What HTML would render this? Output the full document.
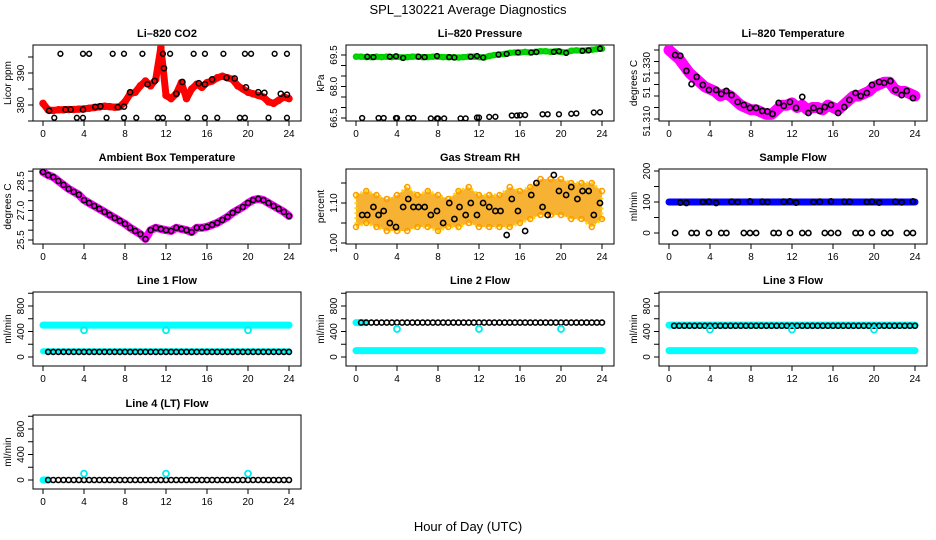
<!DOCTYPE html>
<html><head><meta charset="utf-8"><style>
html,body{margin:0;padding:0;background:#fff;}
svg{display:block;font-family:"Liberation Sans",Arial,sans-serif;}
</style></head><body>
<svg id="chart" width="936" height="540" viewBox="0 0 936 540" xmlns="http://www.w3.org/2000/svg">
<rect width="936" height="540" fill="#fff"/>
<text x="468" y="14" text-anchor="middle" font-size="13">SPL_130221  Average Diagnostics</text>
<text x="468" y="531" text-anchor="middle" font-size="13">Hour of Day (UTC)</text>
</svg>
<script>
const halfHours=[0,0.5,1,1.5,2,2.5,3,3.5,4,4.5,5,5.5,6,6.5,7,7.5,8,8.5,9,9.5,10,10.5,11,11.5,12,12.5,13,13.5,14,14.5,15,15.5,16,16.5,17,17.5,18,18.5,19,19.5,20,20.5,21,21.5,22,22.5,23,23.5,24];
const hours=[0,1,2,3,4,5,6,7,8,9,10,11,12,13,14,15,16,17,18,19,20,21,22,23,24];
const blackT=[0.6,1.1,1.7,2.2,2.7,3.3,3.9,4.6,5.1,5.6,6.1,6.7,7.3,7.9,8.5,9.1,9.6,10.1,10.7,11.2,11.8,12.4,13.0,13.6,14.1,14.7,15.2,15.8,16.5,17.1,17.6,18.2,18.7,19.3,19.8,20.5,21.0,21.6,22.1,22.7,23.2,23.8];
const xTicks=[0,4,8,12,16,20,24];

const co2Red=[380.5,378.5,378.3,378.5,378.5,378.6,378.6,378.7,378.8,379,379.2,379.4,379.6,379.5,379.3,379.5,381,383.5,384,386,387.5,386,388,398,383,382,383.5,387,382,385,386.5,385.5,387,387.5,388.5,389,388.5,388,386,385,384,383.5,383,382.5,381,380.5,381.5,382.5,382];
const co2MidT=[0.6,2.2,2.7,3.9,5.1,5.6,7.3,7.9,8.5,10.2,10.9,11.8,13.0,13.6,15.2,15.8,16.5,17.9,18.7,19.8,21.0,21.6,23.2,23.8];
const co2MidV=[378.2,378.6,378.6,378.6,379.4,379.6,379.3,379.5,384,386.5,387.5,391.5,383.5,387.2,386.8,386.5,388,388.5,388.3,385.5,384,383.8,383.5,383.2];
const co2UpT=[1.7,3.9,4.5,6.8,7.9,9.7,11.7,12.4,14.7,15.8,17.6,19.7,20.3,22.6,23.8];
const co2UpV=[396,396,396,396,396,396,396,396,396,396,396,396,396,396,396];
const co2LoT=[1.1,3.3,3.9,6.2,7.9,9.1,11.2,11.7,14.1,15.8,17.0,19.2,19.7,22.0,23.8];
const co2LoV=[376,376,376,376,376,376,376,376,376,376,376,376,376,376,376];

const presGreen=[69.42,69.42,69.40,69.40,69.42,69.40,69.42,69.40,69.42,69.38,69.40,69.42,69.42,69.40,69.40,69.42,69.42,69.40,69.40,69.40,69.38,69.40,69.42,69.42,69.40,69.38,69.45,69.50,69.52,69.55,69.60,69.62,69.62,69.65,69.62,69.65,69.68,69.68,69.65,69.68,69.65,69.62,69.70,69.72,69.70,69.72,69.75,69.78,69.80];
const presUpT=[1.1,1.7,3.3,3.9,4.6,6.1,6.7,7.9,9.1,9.6,11.2,11.8,12.4,13.9,14.7,15.8,17.1,17.6,19.3,19.8,20.5,22.1,22.7,23.8];
const presUpV=[69.42,69.40,69.42,69.44,69.36,69.42,69.40,69.45,69.40,69.38,69.42,69.45,69.38,69.52,69.55,69.62,69.62,69.64,69.65,69.68,69.60,69.70,69.72,69.80];
const presLoT=[0.6,2.2,2.7,3.9,4.0,5.1,5.6,7.3,7.9,8.0,8.6,10.2,10.7,11.8,12.0,13.0,13.6,15.2,15.7,16.0,16.5,18.2,18.7,19.8,21.0,21.5,23.2,23.8];
const presLoV=[66.5,66.5,66.5,66.5,66.5,66.5,66.5,66.48,66.48,66.48,66.48,66.48,66.48,66.52,66.52,66.55,66.56,66.62,66.62,66.63,66.64,66.68,66.68,66.68,66.7,66.72,66.76,66.77];

const litMag=[51.340,51.338,51.336,51.333,51.330,51.328,51.326,51.324,51.323,51.322,51.320,51.321,51.320,51.318,51.316,51.315,51.314,51.314,51.313,51.312,51.312,51.314,51.316,51.316,51.317,51.315,51.316,51.314,51.315,51.315,51.314,51.316,51.315,51.314,51.316,51.318,51.320,51.320,51.321,51.322,51.324,51.325,51.326,51.326,51.323,51.322,51.322,51.321,51.320];
const litBlack=[51.3378,51.3375,51.3309,51.3252,51.3283,51.3248,51.3226,51.3226,51.3209,51.3222,51.3204,51.3174,51.3161,51.3148,51.3148,51.3135,51.3133,51.3122,51.3170,51.3157,51.3174,51.3148,51.3196,51.3126,51.3148,51.3135,51.3152,51.3161,51.3126,51.3152,51.3183,51.3213,51.3200,51.3213,51.3248,51.3261,51.3257,51.3265,51.3226,51.3204,51.3222,51.3191];

const ambTemp=[28.96,28.8,28.7,28.5,28.3,28.1,27.95,27.8,27.53,27.38,27.23,27.08,26.93,26.77,26.62,26.47,26.32,26.12,25.96,25.8,25.55,26.0,26.12,26.06,26.0,25.96,26.12,26.06,26.0,25.9,26.12,26.12,26.17,26.27,26.37,26.52,26.67,26.88,27.03,27.18,27.38,27.53,27.59,27.53,27.38,27.23,27.08,26.93,26.72];

const rhHigh=[1.12,1.13,1.12,1.11,1.12,1.14,1.12,1.13,1.12,1.11,1.13,1.14,1.12,1.12,1.12,1.14,1.13,1.14,1.16,1.16,1.16,1.15,1.15,1.15,1.13];
const rhLow=[1.04,1.05,1.04,1.03,1.03,1.03,1.04,1.04,1.03,1.04,1.04,1.05,1.04,1.04,1.04,1.04,1.05,1.06,1.07,1.07,1.07,1.06,1.06,1.04,1.06];
const rhBlack=[1.07,1.07,1.09,1.07,1.08,1.05,1.04,1.09,1.11,1.09,1.09,1.09,1.07,1.08,1.05,1.10,1.06,1.09,1.07,1.10,1.07,1.10,1.09,1.08,1.08,1.02,1.11,1.08,1.03,1.12,1.15,1.09,1.07,1.17,1.13,1.12,1.14,1.11,1.13,1.13,1.07,1.10];

const sampBlue=[100,100,100,100,100,100,100,100,100,100,100,100,100,100,100,100,100,100,100,100,100,100,100,100,100];
const sampUpT=[1.1,1.7,3.3,3.9,4.6,6.1,6.7,7.9,9.1,9.6,11.2,11.8,12.4,14.1,14.7,15.8,17.1,17.6,19.3,19.8,20.5,22.1,22.7,23.8];
const sampUpV=[98,97,100,101,97,101,100,102,101,100,101,102,98,100,101,102,101,101,100,101,98,101,99,102];
const sampLoT=[0.6,2.2,2.7,3.9,5.1,5.6,7.3,7.9,8.5,10.2,10.7,11.8,13.0,13.6,15.2,15.8,16.5,18.2,18.7,19.8,21.0,21.6,23.2,23.8];
const sampLoV=[0,0,0,0,0,0,0,0,0,0,0,0,0,0,0,0,0,0,0,0,0,0,0,0];

const l1CyanHi=[500,500,500,500,500,500,500,500,500,500,500,500,500,500,500,500,500,500,500,500,500,500,500,500,500];
const l1CyanLo=[90,90,90,90,90,90,90,90,90,90,90,90,90,90,90,90,90,90,90,90,90,90,90,90,90];
const l1Black=[80,80,80,80,80,80,80,80,80,80,80,80,80,80,80,80,80,80,80,80,80,80,80,80,80,80,80,80,80,80,80,80,80,80,80,80,80,80,80,80,80,80,80,80,80,80,80,80];
const l2CyanHi=[540,540];
const l2CyanLo=[100,100,100,100,100,100,100,100,100,100,100,100,100,100,100,100,100,100,100,100,100,100,100,100,100];
const l2Black=[540,540,540,540,540,540,540,540,540,540,540,540,540,540,540,540,540,540,540,540,540,540,540,540,540,540,540,540,540,540,540,540,540,540,540,540,540,540,540,540,540,540,540,540,540,540,540,540];
const l3CyanHi=[500,500,500,500,500,500,500,500,500,500,500,500,500,500,500,500,500,500,500,500,500,500,500,500,500];
const l3CyanLo=[100,100,100,100,100,100,100,100,100,100,100,100,100,100,100,100,100,100,100,100,100,100,100,100,100];
const l3Black=[490,490,490,490,490,490,490,490,490,490,490,490,490,490,490,490,490,490,490,490,490,490,490,490,490,490,490,490,490,490,490,490,490,490,490,490,490,490,490,490,490,490,490,490,490,490,490,490];
const l4Cyan=[0,0];
const l4Black=[0,0,0,0,0,0,0,0,0,0,0,0,0,0,0,0,0,0,0,0,0,0,0,0,0,0,0,0,0,0,0,0,0,0,0,0,0,0,0,0,0,0,0,0,0,0,0,0];
const outT=[4,12,20];
const l1Out=[420,420,420];
const l2Out=[440,440,440];
const l3Out=[430,430,430];
const l4Out=[100,100,100];

const NS='http://www.w3.org/2000/svg';
const svg=document.getElementById('chart');
function mk(tag,attrs,parent){const e=document.createElementNS(NS,tag);for(const k in attrs)e.setAttribute(k,attrs[k]);(parent||svg).appendChild(e);return e;}

const colLeft=[33,346,659], rowTop=[45,169,292,415], rowH=[76,75,74,74], boxW=268;

function panel(name,col,row,title,ylab,a1,o1,a2,o2,ticks,labs){
  const L=colLeft[col],T=rowTop[row],H=rowH[row];
  const g=mk('g',{});
  
  
  const x=h=>L+10+h*10.25;
  const y=v=>T+o1+(v-a1)*(o2-o1)/(a2-a1);
  const box=mk('rect',{x:L,y:T,width:boxW,height:H,fill:'none',stroke:'#000','stroke-width':1},g);
  
  
  const t=mk('text',{x:L+boxW/2,y:T-8,'text-anchor':'middle','font-size':11,'font-weight':'bold'},g);
  t.textContent=title;
  
  
  const yl=mk('text',{x:0,y:0,transform:`translate(${L-22},${T+H/2}) rotate(-90)`,'text-anchor':'middle','font-size':10},g);
  yl.textContent=ylab;
  
  
  const xa=mk('g',{},g);
  
  
  mk('line',{x1:x(0),x2:x(24),y1:T+H,y2:T+H,stroke:'#000'},xa);
  xTicks.forEach(h=>{
    mk('line',{x1:x(h),x2:x(h),y1:T+H,y2:T+H+5,stroke:'#000'},xa);
    const tl=mk('text',{x:x(h),y:T+H+16,'text-anchor':'middle','font-size':10},xa);
    tl.textContent=h;
  });
  const ya=mk('g',{},g);
  
  
  ticks.forEach(v=>{mk('line',{x1:L-5,x2:L,y1:y(v),y2:y(v),stroke:'#000'},ya);});
  mk('line',{x1:L,x2:L,y1:Math.min(y(ticks[0]),y(ticks[ticks.length-1])),y2:Math.max(y(ticks[0]),y(ticks[ticks.length-1])),stroke:'#000'},ya);
  labs.forEach(([v,s])=>{
    const tl=mk('text',{x:0,y:0,transform:`translate(${L-9},${y(v)}) rotate(-90)`,'text-anchor':'middle','font-size':10},ya);
    tl.textContent=s;
  });
  const clipId='clip-'+name;
  const cp=mk('clipPath',{id:clipId},g);
  mk('rect',{x:L,y:T,width:boxW,height:H},cp);
  const plot=mk('g',{'clip-path':`url(#${clipId})`},g);
  return {x,y,g:plot,name};
}
function band(p,xs,vs,color,w,nm){
  const pts=xs.map((h,i)=>p.x(h)+','+p.y(vs[i])).join(' ');
  const pl=mk('polyline',{points:pts,fill:'none',stroke:color,'stroke-width':w,'stroke-linejoin':'round','stroke-linecap':'round'},p.g);
  
  
}
function pts(p,xs,vs,color,r,sw,nm){
  const gg=mk('g',{},p.g);
  
  
  xs.forEach((h,i)=>{
    if(vs[i]===undefined)return;
    const c=mk('circle',{cx:p.x(h),cy:p.y(vs[i]),r:r,fill:'none',stroke:color,'stroke-width':sw},gg);
    
    
  });
}

// CO2
let p=panel('co2',0,0,'Li\u2013820 CO2','Licor ppm',380,60,390,28,[375,380,385,390,395],[[380,'380'],[390,'390']]);
band(p,halfHours,co2Red,'#f00',7,'co2-band');
pts(p,halfHours,co2Red,'#f00',3,1.5,'co2-red-points');
pts(p,co2MidT,co2MidV,'#000',2.6,1.5,'co2-black-points');
pts(p,co2UpT,co2UpV,'#000',2.4,1.5,'co2-upper-points');
pts(p,co2LoT,co2LoV,'#000',2.4,1.5,'co2-lower-points');

// Pressure
p=panel('pressure',1,0,'Li\u2013820 Pressure','kPa',69.5,10,66.5,73,[66.5,67,67.5,68,68.5,69,69.5],[[69.5,'69.5'],[68,'68.0'],[66.5,'66.5']]);
band(p,halfHours,presGreen,'#0d0',6,'green-band');
pts(p,halfHours,presGreen,'#0c0',2.5,1.5,'green-points');
pts(p,presUpT,presUpV,'#000',2.4,1.5,'upper-black-points');
pts(p,presLoT,presLoV,'#000',2.4,1.5,'lower-black-points');

// Li-820 Temperature
p=panel('licor-temp',2,0,'Li\u2013820 Temperature','degrees C',51.310,74,51.330,28,[51.310,51.315,51.320,51.325,51.330,51.335,51.340],[[51.3091,'51.310'],[51.3215,'51'],[51.3325,'51.330']]);
band(p,halfHours,litMag,'#f0f',11,'magenta-band');
pts(p,halfHours,litMag,'#f0f',3,1.5,'magenta-points');
pts(p,blackT,litBlack,'#000',2.6,1.6,'black-points');

// Ambient
p=panel('ambient-temp',0,1,'Ambient Box Temperature','degrees C',28.5,12,25.5,71,[25.5,26,26.5,27,27.5,28,28.5,29],[[25.5,'25.5'],[27,'27.0'],[28.5,'28.5']]);
band(p,halfHours,ambTemp,'#f0f',8,'magenta-band');
pts(p,halfHours,ambTemp,'#000',2.5,1.5,'black-points');

// RH
p=panel('rh',1,1,'Gas Stream RH','percent',1.10,34,1.00,74,[1.00,1.05,1.10,1.15],[[1.00,'1.00'],[1.10,'1.10']]);
(function(){
  const up=hours.map((h,i)=>p.x(h)+','+p.y(rhHigh[i]));
  const lo=hours.map((h,i)=>p.x(h)+','+p.y(rhLow[i])).reverse();
  const pg=mk('polygon',{points:up.concat(lo).join(' '),fill:'#f7b233',stroke:'#ffd700','stroke-width':3,'stroke-dasharray':'2 3'},p.g);
  
  
})();
pts(p,hours,rhHigh,'#f90',2.5,1.5,'orange-upper-points');
pts(p,hours,rhLow,'#f90',2.5,1.5,'orange-lower-points');
pts(p,blackT,rhBlack,'#000',2.6,1.6,'black-points');

// Sample flow
p=panel('sample-flow',2,1,'Sample Flow','ml/min',0,64,200,2,[0,50,100,150,200],[[0,'0'],[100,'100'],[200,'200']]);
band(p,hours,sampBlue,'#00f',7,'blue-band');
pts(p,sampUpT,sampUpV,'#000',2.6,1.6,'upper-black-points');
pts(p,sampLoT,sampLoV,'#000',2.6,1.6,'zero-black-points');

const fTicks=[0,200,400,600,800,1000],fLabs=[[0,'0'],[400,'400'],[800,'800']];
p=panel('line1-flow',0,2,'Line 1 Flow','ml/min',0,65,800,14,fTicks,fLabs);
band(p,hours,l1CyanHi,'#0ff',7,'cyan-high-band');
band(p,hours,l1CyanLo,'#0ff',6,'cyan-low-band');
pts(p,halfHours.slice(1),l1Black,'#000',2.5,1.6,'black-points');
pts(p,outT,l1Out,'#0ee',3,1.8,'cyan-outliers');

p=panel('line2-flow',1,2,'Line 2 Flow','ml/min',0,65,800,14,fTicks,fLabs);
band(p,[0,1],l2CyanHi,'#0ff',7,'cyan-high-band');
band(p,hours,l2CyanLo,'#0ff',7,'cyan-low-band');
pts(p,halfHours.slice(1),l2Black,'#000',2.5,1.6,'black-points');
pts(p,outT,l2Out,'#0ee',3,1.8,'cyan-outliers');

p=panel('line3-flow',2,2,'Line 3 Flow','ml/min',0,65,800,14,fTicks,fLabs);
band(p,hours,l3CyanHi,'#0ff',7,'cyan-high-band');
band(p,hours,l3CyanLo,'#0ff',7,'cyan-low-band');
pts(p,halfHours.slice(1),l3Black,'#000',2.5,1.6,'black-points');
pts(p,outT,l3Out,'#0ee',3,1.8,'cyan-outliers');

p=panel('line4-flow',0,3,'Line 4 (LT) Flow','ml/min',0,65,800,14,fTicks,fLabs);
band(p,[0,0.5],l4Cyan,'#0ff',7,'cyan-band');
pts(p,halfHours.slice(1),l4Black,'#000',2.5,1.6,'black-points');
pts(p,outT,l4Out,'#0ee',3,1.8,'cyan-outliers');
</script>
</body></html>
